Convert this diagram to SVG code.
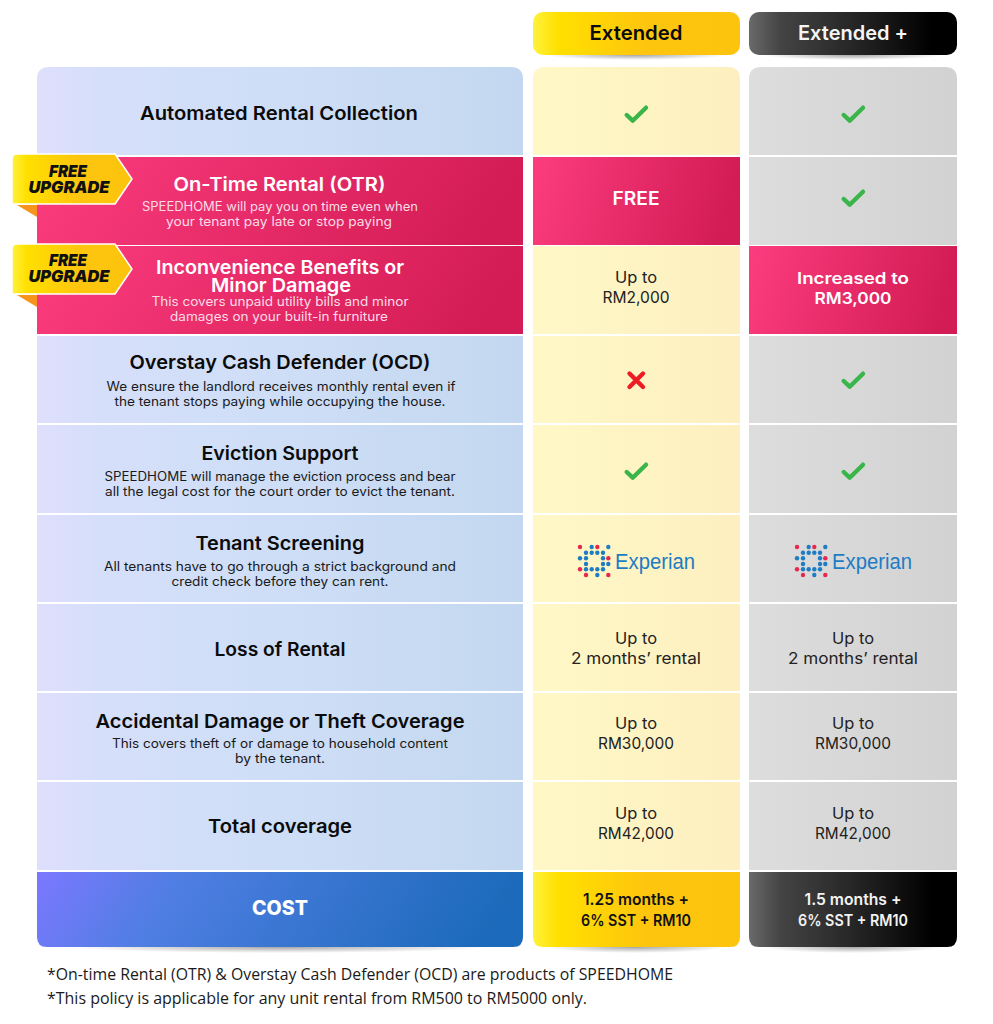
<svg xmlns="http://www.w3.org/2000/svg" width="993" height="1024" viewBox="0 0 993 1024">
<style>
text{font-family:"Inter","Noto Sans",sans-serif;text-anchor:middle}
.h{font-size:19px;font-weight:600;fill:#0b0b0b}
.s{font-size:12.5px;font-weight:400;fill:#1a1a1a}
.w{fill:#fff}
.v{font-size:16px;font-weight:400;fill:#222}
.b{font-size:16px;font-weight:600}
.f{font-family:"Open Sans","Noto Sans",sans-serif;font-size:16px;fill:#1a1a1a;text-anchor:start}
.u{font-size:16.5px;font-weight:900;font-style:italic;fill:#111}
.ok{fill:none;stroke:#39b54a;stroke-width:4.4;stroke-linecap:round;stroke-linejoin:round}
.no{fill:none;stroke:#ed1c24;stroke-width:4.4;stroke-linecap:round}
.lg{font-family:"Liberation Sans",sans-serif;font-size:22.5px;fill:#1d7cc4;text-anchor:start}
</style>
<defs>
<linearGradient id="lb" x1="0" y1="0" x2="1" y2="0"><stop offset="0" stop-color="#dfdffc"/><stop offset="0.12" stop-color="#d6dffa"/><stop offset="0.5" stop-color="#cedef6"/><stop offset="1" stop-color="#c3d8f0"/></linearGradient>
<linearGradient id="ly" x1="0" y1="0" x2="1" y2="0"><stop offset="0" stop-color="#fff8c6"/><stop offset="1" stop-color="#fdefc0"/></linearGradient>
<linearGradient id="lg" x1="0" y1="0" x2="1" y2="0"><stop offset="0" stop-color="#dddddd"/><stop offset="1" stop-color="#d2d2d2"/></linearGradient>
<linearGradient id="pk" x1="0" y1="0" x2="1" y2="0.12"><stop offset="0" stop-color="#fc3c7e"/><stop offset="1" stop-color="#d31c55"/></linearGradient>
<linearGradient id="yl" x1="0" y1="0" x2="1" y2="0"><stop offset="0" stop-color="#fff23e"/><stop offset="0.12" stop-color="#ffe000"/><stop offset="0.55" stop-color="#fec50e"/><stop offset="1" stop-color="#fdc40e"/></linearGradient>
<linearGradient id="bk" x1="0" y1="0" x2="1" y2="0"><stop offset="0" stop-color="#6a6a6a"/><stop offset="0.15" stop-color="#444"/><stop offset="0.5" stop-color="#262626"/><stop offset="0.88" stop-color="#000"/></linearGradient>
<linearGradient id="bl" x1="0" y1="0" x2="1" y2="0.1"><stop offset="0" stop-color="#7c78ff"/><stop offset="0.3" stop-color="#4f7ee2"/><stop offset="1" stop-color="#1c6abb"/></linearGradient>
<radialGradient id="sh"><stop offset="0" stop-color="#000" stop-opacity="0.35"/><stop offset="1" stop-color="#000" stop-opacity="0"/></radialGradient>
<path id="ck" d="M-9.300 1L-3.300 6.700L10-6.300"/>
<g id="exp">
<g fill="#1d7cc4">
<circle cx="11.700" cy="0" r="2.200"/><circle cx="28.300" cy="0" r="2.200"/>
<circle cx="6" cy="5.700" r="2.200"/><circle cx="11.700" cy="5.700" r="2.200"/><circle cx="17.300" cy="5.700" r="2.200"/><circle cx="23" cy="5.700" r="2.200"/>
<circle cx="0" cy="11.300" r="2.200"/><circle cx="6" cy="11.300" r="2.200"/><circle cx="23" cy="11.300" r="2.200"/>
<circle cx="6" cy="17" r="2.200"/><circle cx="23" cy="17" r="2.200"/><circle cx="28.300" cy="17" r="2.200"/>
<circle cx="6" cy="22.300" r="2.200"/><circle cx="11.700" cy="22.300" r="2.200"/><circle cx="17.300" cy="22.300" r="2.200"/><circle cx="23" cy="22.300" r="2.200"/>
<circle cx="17.300" cy="28" r="2.200"/></g>
<g fill="#e8264e"><circle cx="0" cy="0" r="2.200"/><circle cx="17.300" cy="0" r="2.200"/><circle cx="28.300" cy="11.300" r="2.200"/><circle cx="0" cy="22.300" r="2.200"/><circle cx="6" cy="28" r="2.200"/><circle cx="28.300" cy="28" r="2.200"/></g>
<text class="lg" x="35" y="22" textLength="80" lengthAdjust="spacingAndGlyphs">Experian</text>
</g>
<g id="badge">
<path d="M17 51L37 51V63Z" fill="#f7941d"/>
<path d="M17 0H115L132 25L115 50L12 50L12 5Q12 0 17 0Z" fill="url(#yl)" stroke="#fff" stroke-width="1.500" stroke-linejoin="round"/>
</g>
</defs>
<rect width="993" height="1024" fill="#fff"/>

<g id="shadows">
<ellipse cx="636" cy="55" rx="90" ry="5" fill="url(#sh)"/>
<ellipse cx="853" cy="55" rx="90" ry="5" fill="url(#sh)"/>
<ellipse cx="280" cy="947" rx="210" ry="6" fill="url(#sh)"/>
<ellipse cx="636" cy="947" rx="90" ry="6" fill="url(#sh)"/>
<ellipse cx="853" cy="947" rx="90" ry="6" fill="url(#sh)"/>
</g>

<g id="header-extended"><rect x="533" y="12" width="207" height="43" rx="10" fill="url(#yl)"/><text x="636" y="40" class="h" textLength="93" lengthAdjust="spacingAndGlyphs" style="font-size:20px">Extended</text></g>
<g id="header-extended-plus"><rect x="749" y="12" width="208" height="43" rx="10" fill="url(#bk)"/><text x="853" y="40" class="h w" textLength="110" lengthAdjust="spacingAndGlyphs" style="font-size:20px;fill:#f5f5f5">Extended +</text></g>

<g id="row-automated">
<path d="M37 155V79Q37 67 49 67H511Q523 67 523 79V155Z" fill="url(#lb)"/>
<path d="M533 155V79Q533 67 545 67H728Q740 67 740 79V155Z" fill="url(#ly)"/>
<path d="M749 155V79Q749 67 761 67H945Q957 67 957 79V155Z" fill="url(#lg)"/>
<text x="279" y="120" class="h" textLength="278" lengthAdjust="spacingAndGlyphs">Automated Rental Collection</text>
<use href="#ck" x="636" y="114" class="ok"/><use href="#ck" x="853" y="114" class="ok"/>
</g>

<g id="row-otr">
<rect x="37" y="157" width="486" height="88" fill="url(#pk)"/>
<rect x="533" y="157" width="207" height="88" fill="url(#pk)"/>
<rect x="749" y="157" width="208" height="88" fill="url(#lg)"/>
<text x="279.500" y="191" class="h w" textLength="212" lengthAdjust="spacingAndGlyphs">On-Time Rental (OTR)</text>
<text x="280" y="211" class="s" style="fill:#fbdbe5" textLength="276" lengthAdjust="spacingAndGlyphs">SPEEDHOME will pay you on time even when</text>
<text x="279" y="226" class="s" style="fill:#fbdbe5" textLength="226" lengthAdjust="spacingAndGlyphs">your tenant pay late or stop paying</text>
<text x="636" y="205" class="h w" textLength="47" lengthAdjust="spacingAndGlyphs">FREE</text>
<use href="#ck" x="853" y="198" class="ok"/>
</g>

<g id="row-inconvenience">
<rect x="37" y="246" width="486" height="88" fill="url(#pk)"/>
<rect x="533" y="246" width="207" height="88" fill="url(#ly)"/>
<rect x="749" y="246" width="208" height="88" fill="url(#pk)"/>
<text x="280" y="273.500" class="h w" textLength="248" lengthAdjust="spacingAndGlyphs">Inconvenience Benefits or</text>
<text x="281" y="291.500" class="h w" textLength="140" lengthAdjust="spacingAndGlyphs">Minor Damage</text>
<text x="280" y="306" class="s" style="fill:#fbdbe5" textLength="257" lengthAdjust="spacingAndGlyphs">This covers unpaid utility bills and minor</text>
<text x="279" y="321" class="s" style="fill:#fbdbe5" textLength="218" lengthAdjust="spacingAndGlyphs">damages on your built-in furniture</text>
<text x="636" y="283" class="v" textLength="42" lengthAdjust="spacingAndGlyphs">Up to</text>
<text x="636" y="303" class="v" textLength="67" lengthAdjust="spacingAndGlyphs">RM2,000</text>
<text x="853" y="284" class="b w" textLength="112" lengthAdjust="spacingAndGlyphs">Increased to</text>
<text x="853" y="304" class="b w" textLength="77" lengthAdjust="spacingAndGlyphs">RM3,000</text>
</g>

<g id="row-ocd">
<rect x="37" y="336" width="486" height="87" fill="url(#lb)"/>
<rect x="533" y="336" width="207" height="87" fill="url(#ly)"/>
<rect x="749" y="336" width="208" height="87" fill="url(#lg)"/>
<text x="280" y="369" class="h" textLength="301" lengthAdjust="spacingAndGlyphs">Overstay Cash Defender (OCD)</text>
<text x="281" y="391" class="s" textLength="349" lengthAdjust="spacingAndGlyphs">We ensure the landlord receives monthly rental even if</text>
<text x="280" y="406" class="s" textLength="331" lengthAdjust="spacingAndGlyphs">the tenant stops paying while occupying the house.</text>
<path d="M629.500 373.500L643 387M643 373.500L629.500 387" class="no"/>
<use href="#ck" x="853" y="380" class="ok"/>
</g>

<g id="row-eviction">
<rect x="37" y="425" width="486" height="88" fill="url(#lb)"/>
<rect x="533" y="425" width="207" height="88" fill="url(#ly)"/>
<rect x="749" y="425" width="208" height="88" fill="url(#lg)"/>
<text x="280" y="459.500" class="h" textLength="157" lengthAdjust="spacingAndGlyphs">Eviction Support</text>
<text x="280" y="480.500" class="s" textLength="351" lengthAdjust="spacingAndGlyphs">SPEEDHOME will manage the eviction process and bear</text>
<text x="280" y="495.500" class="s" textLength="350" lengthAdjust="spacingAndGlyphs">all the legal cost for the court order to evict the tenant.</text>
<use href="#ck" x="636" y="471" class="ok"/><use href="#ck" x="853" y="471" class="ok"/>
</g>

<g id="row-screening">
<rect x="37" y="515" width="486" height="87" fill="url(#lb)"/>
<rect x="533" y="515" width="207" height="87" fill="url(#ly)"/>
<rect x="749" y="515" width="208" height="87" fill="url(#lg)"/>
<text x="280" y="549.500" class="h" textLength="169" lengthAdjust="spacingAndGlyphs">Tenant Screening</text>
<text x="280" y="570.500" class="s" textLength="352" lengthAdjust="spacingAndGlyphs">All tenants have to go through a strict background and</text>
<text x="280" y="585.500" class="s" textLength="217" lengthAdjust="spacingAndGlyphs">credit check before they can rent.</text>
<use href="#exp" x="580" y="547"/>
<use href="#exp" x="797" y="547"/>
</g>

<g id="row-loss">
<rect x="37" y="604" width="486" height="87" fill="url(#lb)"/>
<rect x="533" y="604" width="207" height="87" fill="url(#ly)"/>
<rect x="749" y="604" width="208" height="87" fill="url(#lg)"/>
<text x="280" y="656" class="h" textLength="131" lengthAdjust="spacingAndGlyphs">Loss of Rental</text>
<text x="636" y="644" class="v" textLength="42" lengthAdjust="spacingAndGlyphs">Up to</text>
<text x="636" y="664" class="v" textLength="130" lengthAdjust="spacingAndGlyphs">2 months’ rental</text>
<text x="853" y="644" class="v" textLength="42" lengthAdjust="spacingAndGlyphs">Up to</text>
<text x="853" y="664" class="v" textLength="130" lengthAdjust="spacingAndGlyphs">2 months’ rental</text>
</g>

<g id="row-accidental">
<rect x="37" y="693" width="486" height="87" fill="url(#lb)"/>
<rect x="533" y="693" width="207" height="87" fill="url(#ly)"/>
<rect x="749" y="693" width="208" height="87" fill="url(#lg)"/>
<text x="280" y="727.500" class="h" textLength="369" lengthAdjust="spacingAndGlyphs">Accidental Damage or Theft Coverage</text>
<text x="280" y="748" class="s" textLength="336" lengthAdjust="spacingAndGlyphs">This covers theft of or damage to household content</text>
<text x="280" y="763" class="s" textLength="90" lengthAdjust="spacingAndGlyphs">by the tenant.</text>
<text x="636" y="729" class="v" textLength="42" lengthAdjust="spacingAndGlyphs">Up to</text>
<text x="636" y="749" class="v" textLength="76" lengthAdjust="spacingAndGlyphs">RM30,000</text>
<text x="853" y="729" class="v" textLength="42" lengthAdjust="spacingAndGlyphs">Up to</text>
<text x="853" y="749" class="v" textLength="76" lengthAdjust="spacingAndGlyphs">RM30,000</text>
</g>

<g id="row-total">
<rect x="37" y="782" width="486" height="88" fill="url(#lb)"/>
<rect x="533" y="782" width="207" height="88" fill="url(#ly)"/>
<rect x="749" y="782" width="208" height="88" fill="url(#lg)"/>
<text x="280" y="833" class="h" textLength="144" lengthAdjust="spacingAndGlyphs">Total coverage</text>
<text x="636" y="819" class="v" textLength="42" lengthAdjust="spacingAndGlyphs">Up to</text>
<text x="636" y="839" class="v" textLength="76" lengthAdjust="spacingAndGlyphs">RM42,000</text>
<text x="853" y="819" class="v" textLength="42" lengthAdjust="spacingAndGlyphs">Up to</text>
<text x="853" y="839" class="v" textLength="76" lengthAdjust="spacingAndGlyphs">RM42,000</text>
</g>

<g id="row-cost">
<path d="M37 872H523V937Q523 947 513 947H47Q37 947 37 937Z" fill="url(#bl)"/>
<path d="M533 872H740V937Q740 947 730 947H543Q533 947 533 937Z" fill="url(#yl)"/>
<path d="M749 872H957V937Q957 947 947 947H759Q749 947 749 937Z" fill="url(#bk)"/>
<text x="280" y="914.500" class="h w" textLength="56" lengthAdjust="spacingAndGlyphs" style="font-weight:800;font-size:20px">COST</text>
<text x="636" y="905" class="b" fill="#111" textLength="106" lengthAdjust="spacingAndGlyphs">1.25 months +</text>
<text x="636" y="926" class="b" fill="#111" textLength="110" lengthAdjust="spacingAndGlyphs">6% SST + RM10</text>
<text x="853" y="905" class="b" fill="#f2f2f2" textLength="97" lengthAdjust="spacingAndGlyphs">1.5 months +</text>
<text x="853" y="926" class="b" fill="#f2f2f2" textLength="110" lengthAdjust="spacingAndGlyphs">6% SST + RM10</text>
</g>

<g id="badge-otr">
<use href="#badge" x="0" y="154"/>
<text x="68" y="177" class="u" textLength="38" lengthAdjust="spacingAndGlyphs">FREE</text>
<text x="69" y="192.500" class="u" textLength="81" lengthAdjust="spacingAndGlyphs">UPGRADE</text>
</g>
<g id="badge-inconvenience">
<use href="#badge" x="0" y="244"/>
<text x="68" y="266" class="u" textLength="38" lengthAdjust="spacingAndGlyphs">FREE</text>
<text x="69" y="282" class="u" textLength="81" lengthAdjust="spacingAndGlyphs">UPGRADE</text>
</g>

<g id="footnotes">
<text x="47" y="980" class="f" textLength="626" lengthAdjust="spacingAndGlyphs">*On-time Rental (OTR) &amp; Overstay Cash Defender (OCD) are products of SPEEDHOME</text>
<text x="47" y="1004" class="f" textLength="540" lengthAdjust="spacingAndGlyphs">*This policy is applicable for any unit rental from RM500 to RM5000 only.</text>
</g>
</svg>
